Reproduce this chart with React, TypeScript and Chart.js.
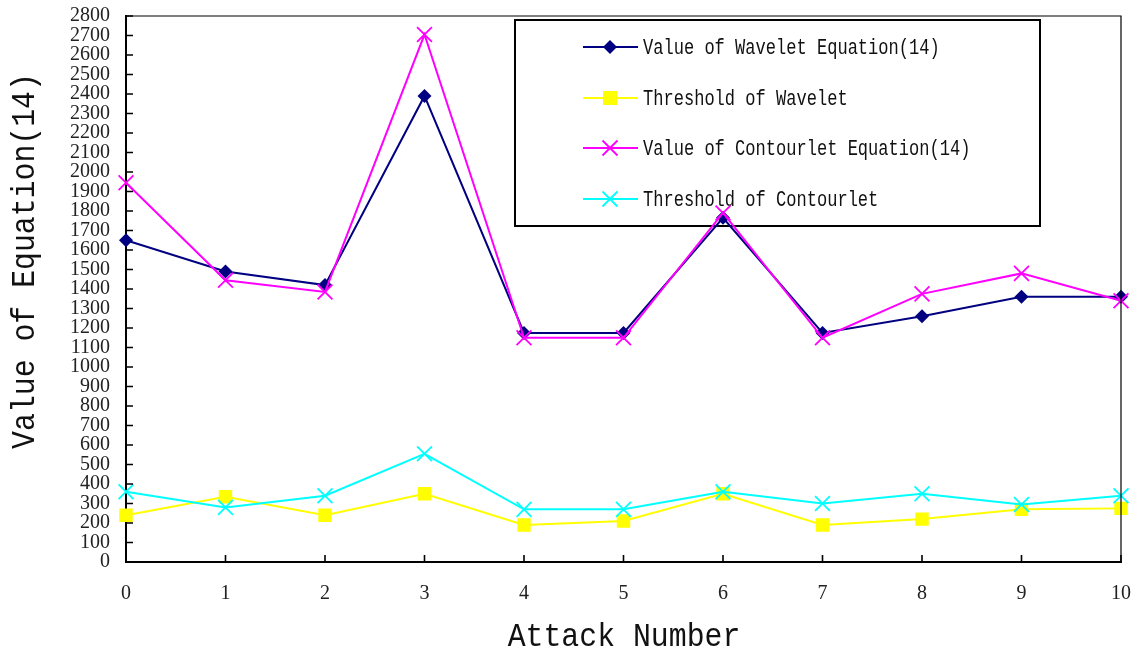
import React, { useEffect, useRef } from 'react';
import { Chart, registerables } from 'chart.js';

Chart.register(...registerables);

const attackNumbers = ['0', '1', '2', '3', '4', '5', '6', '7', '8', '9', '10'];
const waveletValue = [1650, 1490, 1420, 2390, 1175, 1175, 1765, 1175, 1260, 1360, 1360];
const waveletThreshold = [240, 335, 240, 350, 190, 210, 350, 190, 220, 270, 275];
const contourletValue = [1945, 1445, 1385, 2705, 1150, 1150, 1790, 1150, 1375, 1480, 1340];
const contourletThreshold = [360, 280, 340, 555, 270, 270, 360, 300, 350, 295, 340];
const seriesNames = [
  'Value of Wavelet Equation(14)',
  'Threshold of Wavelet',
  'Value of Contourlet Equation(14)',
  'Threshold of Contourlet',
];
const seriesColors = ['#000080', '#FFFF00', '#FF00FF', '#00FFFF'];
const seriesMarkers = ['rectRot', 'rect', 'crossRot', 'crossRot'];
const xTitle = 'Attack Number';
const yTitle = 'Value of Equation(14)';
const yMin = 0;
const yMax = 2800;
const yStep = 100;

function drawMarker(ctx: CanvasRenderingContext2D, style: string, x: number, y: number, color: string) {
  ctx.save();
  ctx.fillStyle = color;
  ctx.strokeStyle = color;
  if (style === 'rectRot') {
    const r = 7;
    ctx.beginPath();
    ctx.moveTo(x, y - r);
    ctx.lineTo(x + r, y);
    ctx.lineTo(x, y + r);
    ctx.lineTo(x - r, y);
    ctx.closePath();
    ctx.fill();
  } else if (style === 'rect') {
    const h = 7;
    ctx.fillRect(x - h, y - h, 2 * h, 2 * h);
  } else {
    const h = 7.5;
    ctx.lineWidth = 1.8;
    ctx.beginPath();
    ctx.moveTo(x - h, y - h);
    ctx.lineTo(x + h, y + h);
    ctx.moveTo(x + h, y - h);
    ctx.lineTo(x - h, y + h);
    ctx.stroke();
  }
  ctx.restore();
}

function drawStretchedText(
  ctx: CanvasRenderingContext2D,
  text: string,
  x: number,
  y: number,
  size: number,
  sx: number,
  align: CanvasTextAlign,
  rotate = 0
) {
  ctx.save();
  ctx.translate(x, y);
  if (rotate) ctx.rotate(rotate);
  ctx.scale(sx, 1);
  ctx.font = `${size}px "Liberation Mono"`;
  ctx.fillStyle = '#111';
  ctx.textAlign = align;
  ctx.textBaseline = 'middle';
  ctx.fillText(text, 0, 0);
  ctx.restore();
}

const decorPlugin = {
  id: 'decor',
  beforeDatasetsDraw(chart: any) {
    const ctx: CanvasRenderingContext2D = chart.ctx;
    const bx = 515, by = 20, bw = 525, bh = 206;
    ctx.save();
    ctx.fillStyle = '#fff';
    ctx.fillRect(bx, by, bw, bh);
    ctx.strokeStyle = '#000';
    ctx.lineWidth = 2;
    ctx.strokeRect(bx, by, bw, bh);
    const rows = [47, 98, 148, 199];
    chart.data.datasets.forEach((ds: any, i: number) => {
      const y = rows[i];
      ctx.strokeStyle = seriesColors[i];
      ctx.lineWidth = 2;
      ctx.beginPath();
      ctx.moveTo(583, y);
      ctx.lineTo(638, y);
      ctx.stroke();
      drawMarker(ctx, seriesMarkers[i], 610, y, seriesColors[i]);
      drawStretchedText(ctx, ds.label, 643, y + 1, 22, 0.775, 'left');
    });
    ctx.restore();
  },
  afterDraw(chart: any) {
    const ctx: CanvasRenderingContext2D = chart.ctx;
    const { left, right, top, bottom } = chart.chartArea;
    const xs = chart.scales.x;
    const ys = chart.scales.y;
    ctx.save();
    ctx.strokeStyle = '#000';
    ctx.lineWidth = 1.2;
    ctx.beginPath();
    ctx.moveTo(left, top);
    ctx.lineTo(right, top);
    ctx.lineTo(right, bottom);
    ctx.stroke();
    ctx.lineWidth = 1.6;
    ctx.beginPath();
    for (let v = yMin; v <= yMax; v += yStep) {
      const py = ys.getPixelForValue(v);
      ctx.moveTo(left, py);
      ctx.lineTo(left + 7, py);
    }
    for (let i = 0; i < attackNumbers.length; i++) {
      const px = xs.getPixelForValue(i);
      ctx.moveTo(px, bottom);
      ctx.lineTo(px, bottom - 7);
    }
    ctx.stroke();
    ctx.restore();
    drawStretchedText(ctx, xTitle, 624, 637, 34, 0.877, 'center');
    drawStretchedText(ctx, yTitle, 25, 261, 34, 0.877, 'center', -Math.PI / 2);
  },
};

function zeroPadding(scale: any) {
  scale.paddingTop = 0;
  scale.paddingBottom = 0;
  scale.paddingLeft = 0;
  scale.paddingRight = 0;
}

export default function App() {
  const canvasRef = useRef<HTMLCanvasElement | null>(null);

  useEffect(() => {
    if (!canvasRef.current) return;
    const datasets = [waveletValue, waveletThreshold, contourletValue, contourletThreshold].map((d, i) => ({
      label: seriesNames[i],
      data: d,
      borderColor: seriesColors[i],
      backgroundColor: seriesColors[i],
      pointBackgroundColor: seriesColors[i],
      pointBorderColor: seriesColors[i],
      pointStyle: seriesMarkers[i],
      pointRadius: seriesMarkers[i] === 'rectRot' ? 7 : seriesMarkers[i] === 'rect' ? 9.5 : 10.5,
      pointBorderWidth: seriesMarkers[i] === 'crossRot' ? 1.8 : 0,
      borderWidth: 2,
      tension: 0,
      fill: false,
      order: 4 - i,
    }));
    const chart = new Chart(canvasRef.current, {
      type: 'line',
      data: { labels: attackNumbers, datasets },
      options: {
        animation: false,
        responsive: true,
        maintainAspectRatio: false,
        layout: { padding: { top: 16, right: 20, left: 0, bottom: 0 } },
        plugins: {
          legend: { display: false },
          tooltip: { enabled: false },
        },
        scales: {
          x: {
            type: 'category',
            offset: false,
            grid: { display: false, drawTicks: false },
            border: { display: true, color: '#000', width: 2 },
            ticks: {
              font: { family: 'Liberation Serif', size: 20, lineHeight: 1 },
              color: '#222',
              padding: 22,
              maxRotation: 0,
              autoSkip: false,
            },
            afterFit(scale: any) {
              scale.height = 93;
              zeroPadding(scale);
            },
          },
          y: {
            min: yMin,
            max: yMax,
            grid: { display: false, drawTicks: false },
            border: { display: true, color: '#000', width: 2 },
            ticks: {
              stepSize: yStep,
              autoSkip: false,
              font: { family: 'Liberation Serif', size: 20, lineHeight: 1 },
              color: '#222',
              padding: 16,
              callback: (v: any) => String(v),
            },
            afterFit(scale: any) {
              scale.width = 126;
              zeroPadding(scale);
            },
          },
        },
      },
      plugins: [decorPlugin],
    } as any);
    return () => chart.destroy();
  }, []);

  return (
    <div style={{ position: 'fixed', left: 0, top: 0, width: 1141, height: 655, background: '#fff' }}>
      <canvas ref={canvasRef} />
    </div>
  );
}
